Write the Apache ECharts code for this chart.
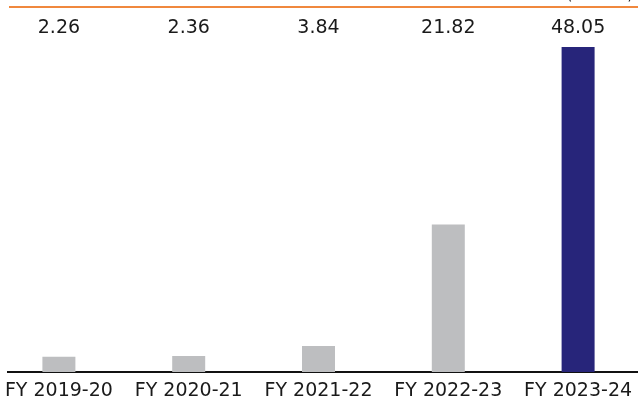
<!DOCTYPE html>
<html>
<head>
<meta charset="utf-8">
<script src="https://cdn.jsdelivr.net/npm/echarts@6/dist/echarts.min.js"></script>
<style>
  html, body { margin: 0; padding: 0; background: #ffffff; }
  #chart { width: 638px; height: 403px; }
</style>
</head>
<body>
<div id="chart"></div>
<script>
// Fiscal years shown along the bottom axis
const categories = ['FY 2019-20', 'FY 2020-21', 'FY 2021-22', 'FY 2022-23', 'FY 2023-24'];
// Yearly values
const values = [2.26, 2.36, 3.84, 21.82, 48.05];
// Bar colours: earlier years grey, latest year highlighted
const barColors = ['#BDBEC0', '#BDBEC0', '#BDBEC0', '#BDBEC0', '#27257A'];
const unitText = '(₹ Crore)';

const FONT = 'DejaVu Sans';

const chart = echarts.init(document.getElementById('chart'), null, { renderer: 'canvas' });

chart.setOption({
  animation: false,
  backgroundColor: '#ffffff',
  grid: {
    left: -6, top: 47, width: 649, height: 325,
    containLabel: false,
    outerBoundsMode: 'none'
  },
  xAxis: [
    {
      type: 'category',
      data: categories,
      position: 'bottom',
      axisLine: { show: false },
      axisTick: { show: false },
      axisLabel: {
        interval: 0,
        hideOverlap: false,
        margin: 10,
        fontFamily: FONT,
        fontSize: 19,
        color: '#1a1a1a'
      }
    },
    {
      // value captions printed in a row above the plot
      type: 'category',
      data: values.map(v => v.toFixed(2)),
      position: 'top',
      axisLine: { show: false },
      axisTick: { show: false },
      axisLabel: {
        interval: 0,
        hideOverlap: false,
        margin: 9,
        fontFamily: FONT,
        fontSize: 19,
        color: '#1a1a1a'
      }
    }
  ],
  yAxis: {
    type: 'value',
    min: 0,
    max: 48.05,
    show: false,
    splitLine: { show: false }
  },
  series: [
    {
      type: 'bar',
      xAxisIndex: 0,
      barWidth: 33,
      data: values.map((v, i) => ({ value: v, itemStyle: { color: barColors[i] } })),
      z: 2
    }
  ],
  graphic: [
    {
      type: 'line',
      shape: { x1: 9, y1: 7, x2: 638, y2: 7 },
      style: { stroke: '#F0883E', lineWidth: 2 },
      z: 10
    },
    {
      type: 'line',
      shape: { x1: 7, y1: 372, x2: 638, y2: 372 },
      style: { stroke: '#111111', lineWidth: 2 },
      z: 1
    },
    {
      type: 'text',
      style: {
        x: 633,
        y: 3,
        text: unitText,
        align: 'right',
        verticalAlign: 'bottom',
        fontFamily: FONT,
        fontSize: 15,
        fill: '#1a1a1a'
      },
      z: 10
    }
  ]
});
</script>
</body>
</html>
